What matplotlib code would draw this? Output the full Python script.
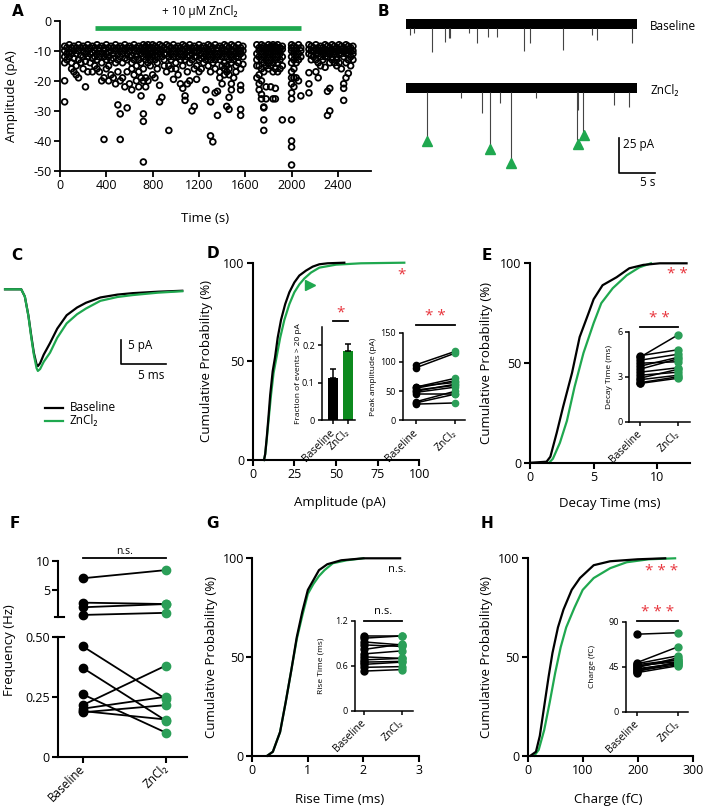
import matplotlib.pyplot as plt
import numpy as np

plt.rcParams['font.family'] = ['Open Sans', 'DejaVu Sans']
plt.rcParams['axes.unicode_minus'] = False

W, H = 708, 808
GREEN = '#1fa84f'
DOT_GREEN = '#2b9f58'
BAR_GREEN = '#0d8a1e'
RED = '#e8343c'

# ---------------- data ----------------
# A: event amplitudes over time, (time s, [amplitudes pA])
a_cols = [
    (40, [-8.5, -10, -12, -14, -20, -27]), (60, [-9, -11, -13]), (80, [-8, -10.5, -12]),
    (100, [-9, -11, -14, -16]), (120, [-8.5, -10, -12.5, -17]), (140, [-9, -11, -15, -18]),
    (160, [-8, -10, -13, -19]), (180, [-9, -11.5, -14]), (200, [-8.5, -10, -12, -16]),
    (220, [-9, -11, -13.5, -22]), (240, [-8, -10, -12, -17]), (260, [-9, -11, -14]),
    (280, [-8.5, -10.5, -12.5, -17]), (300, [-9, -10, -12, -15]), (320, [-8, -11, -13, -16]),
    (340, [-9, -10, -12, -17]), (360, [-8.5, -11, -14, -20]), (380, [-9, -10, -12, -19, -39.5]),
    (400, [-8, -11, -13, -16]), (420, [-9, -10.5, -12, -15, -20]), (440, [-8.5, -10, -13, -18]),
    (460, [-9, -11, -12.5, -19]), (480, [-8, -10, -14, -21]), (500, [-9, -11, -13, -17, -28]),
    (520, [-8.5, -10, -12, -20, -31, -39.5]), (540, [-9, -11, -14, -19]), (560, [-8, -10, -12.5, -22]),
    (580, [-9, -11, -13, -17, -29]), (600, [-8.5, -10, -12, -21]), (620, [-9, -11.5, -14, -16, -23]),
    (640, [-8, -10, -13, -18]), (660, [-9, -11, -12, -15, -20]), (680, [-8.5, -10, -13, -17, -22]),
    (700, [-9, -11, -14, -19, -25]), (720, [-8, -10, -12, -16, -20, -31, -33.5, -47]),
    (740, [-8.5, -9, -10, -11, -13, -19, -22]), (760, [-8, -9.5, -11, -12, -14, -20]),
    (780, [-9, -10, -11, -13, -15]), (800, [-8, -9, -10.5, -12, -18]),
    (820, [-8.5, -10, -11.5, -13, -19]), (840, [-9, -10, -12, -14, -16]),
    (860, [-8, -9.5, -11, -21.5, -27]), (880, [-8.5, -10, -12, -25.5]), (900, [-9, -11, -13, -15]),
    (920, [-8, -9.5, -11, -17]), (940, [-8.5, -10, -12, -15, -36.5]), (960, [-9, -11, -13, -16]),
    (980, [-8, -10, -12, -19.5]), (1000, [-9, -11, -14, -16]), (1020, [-8.5, -10, -12, -18]),
    (1040, [-9, -11, -13, -21]), (1060, [-8, -10, -12, -15, -22.5]),
    (1080, [-8.5, -9.5, -11, -13, -25, -26.5]), (1100, [-9, -10, -12, -17, -21]),
    (1120, [-8, -10, -11.5, -14, -20]), (1140, [-9, -11, -13, -30]), (1160, [-8.5, -10, -12, -16, -28.5]),
    (1180, [-9, -10.5, -12, -15, -19.5]), (1200, [-8, -10, -13, -17]), (1220, [-9, -11, -12.5, -16]),
    (1240, [-8.5, -10, -12, -14]), (1260, [-9, -11, -13, -23]), (1280, [-8, -10, -12, -15]),
    (1300, [-8.5, -9.5, -11, -13, -17, -27, -38.3]), (1320, [-9, -10, -12, -14, -40.3]),
    (1340, [-8, -11, -13, -16, -24]), (1360, [-9, -10, -12, -31.5, -23.5]),
    (1380, [-8.5, -11, -13, -17, -19]), (1400, [-9, -10, -12, -15, -21]),
    (1420, [-8, -10, -11, -14, -16, -18]), (1440, [-8.5, -10, -12, -15, -17, -28.5]),
    (1460, [-9, -11, -13, -16, -18, -29.5, -25.5]), (1480, [-8, -10, -12, -14, -21, -23]),
    (1500, [-8.5, -10, -11, -13, -19]), (1520, [-9, -11, -12, -15, -17]), (1540, [-8, -10, -12, -14]),
    (1560, [-9, -10, -11, -16, -21.5, -23, -29.5, -31.5]), (1580, [-8.5, -10, -12, -14.5]),
    (1700, [-8, -11, -13, -15, -19]), (1720, [-9, -10, -12, -15, -18, -23, -21]),
    (1740, [-8, -9, -11, -13, -16, -20, -24.5, -26]),
    (1760, [-8.5, -10, -12, -14, -17, -28.7, -29, -33, -36.5]),
    (1780, [-9, -10, -11, -13, -15, -22, -26]), (1800, [-8, -9, -10.5, -12, -14, -16]),
    (1820, [-8.5, -9.5, -11, -13, -15, -22]), (1840, [-8, -9, -10, -12, -14, -17, -26]),
    (1860, [-8.5, -10, -11, -13, -16, -22.5, -26]), (1880, [-8, -9, -10, -12, -14, -17]),
    (1900, [-9, -10, -11, -13, -16]), (1920, [-8.5, -9.5, -12, -15, -33]),
    (2000, [-8, -9, -10, -12, -14, -17, -19, -21, -24, -26, -33, -40, -42, -48]),
    (2020, [-8.5, -10, -11, -13, -16, -19, -22]), (2040, [-9, -10, -12, -14, -19]),
    (2060, [-8, -11, -13, -20]), (2080, [-9, -10, -12, -25]),
    (2150, [-8, -9.5, -11, -17.3, -21, -24]), (2170, [-8.5, -10, -11.5, -13]), (2190, [-9, -10, -12]),
    (2210, [-8, -9.5, -11, -13, -17]), (2230, [-9, -10, -11, -14, -19]), (2250, [-8.5, -10, -12, -15]),
    (2270, [-9, -10, -11, -13]), (2290, [-8, -9.5, -11, -12, -15.5]),
    (2310, [-8.5, -10, -12, -23.5, -31.5]), (2330, [-9, -10, -11, -14, -22.5, -30]),
    (2350, [-8, -10, -12, -13]), (2370, [-8.5, -9.5, -11, -14]), (2390, [-9, -10, -12, -13, -15]),
    (2410, [-8, -10, -11, -14]), (2430, [-8.5, -9.5, -11, -16]),
    (2450, [-9, -10, -12, -22.5, -26.5, -21]), (2470, [-8, -10, -11, -14, -19]),
    (2490, [-8.5, -9.5, -11, -13, -17.5]), (2510, [-9, -10, -12, -15]), (2530, [-8.5, -10, -11, -13]),
]
a_t = np.array([t for t, amps in a_cols for _ in amps], dtype=float)
a_amp = np.array([v for _, amps in a_cols for v in amps], dtype=float)

# B: example traces, event times (s) and depths (pA)
base_ev_t = [0.55, 1.1, 3.6, 5.4, 5.9, 6.1, 8.7, 9.8, 11.4, 12.6, 16.4, 17.2, 21.8, 25.8, 26.5, 31.4]
base_ev_d = [7.9, 6.7, 19.8, 12.6, 10.2, 10.2, 6.7, 13.8, 9.0, 9.0, 19.3, 13.8, 18.6, 7.9, 11.4, 13.8]
zn_ev_t = [2.9, 7.7, 10.6, 11.7, 13.1, 14.6, 18.1, 23.7, 23.9, 24.6, 28.8, 30.9]
zn_ev_d = [34.8, 7.4, 18.1, 41.9, 10.9, 51.4, 7.4, 37.1, 15.7, 33.6, 12.1, 13.3]
tri_t = [2.9, 11.7, 14.6, 23.8, 24.7]
tri_d = [38.0, 43.5, 53.5, 40.0, 33.6]

# C: averaged events (ms, pA)
c_t = [0, 1.8, 2.2, 2.6, 2.9, 3.2, 3.5, 3.65, 3.9, 4.3, 5.0, 5.8, 6.85, 8.0, 9.0, 10.6, 12.5, 14.2, 17.0, 19.7]
c_base = [0, 0, -1.5, -5.5, -9.5, -13.2, -15.6, -16.0, -15.4, -13.6, -11.2, -8.2, -5.4, -3.8, -2.8, -1.7,
          -1.1, -0.8, -0.5, -0.3]
c_zn = [0, 0, -1.5, -5.6, -9.8, -13.6, -16.4, -17.0, -16.6, -15.1, -13.2, -10.1, -7.1, -5.2, -4.0, -2.4,
        -1.6, -1.2, -0.7, -0.4]

# D: amplitude cumulative distributions
d_base_x = [6.8, 7.5, 8.5, 9.5, 10.5, 12, 13.4, 15, 17, 19.5, 22, 25, 28, 32, 36, 40, 45, 55]
d_base_p = [0, 3, 12, 22, 33, 45, 52, 62, 71, 79, 85, 90, 93.5, 96, 98, 99.2, 99.7, 100]
d_zn_x = [6.8, 7.5, 8.5, 9.5, 11, 12.5, 14.5, 16.5, 19, 22, 25, 28, 31, 35, 40, 50, 65, 91]
d_zn_p = [0, 3, 11, 20, 33, 44, 53, 62, 71, 79, 85, 89, 92, 95, 97.5, 99, 99.7, 100]
frac_mean = [0.113, 0.185]
frac_err = [0.024, 0.019]
pk_base = [95, 90, 57, 55, 52, 50, 48, 45, 32, 30, 28, 58]
pk_zn = [118, 115, 72, 68, 60, 62, 57, 45, 50, 45, 30, 65]

# E: decay time
e_base_x = [0.1, 1.3, 1.6, 2.1, 2.6, 3.3, 3.9, 4.6, 5.0, 5.7, 6.8, 7.8, 8.9, 10.2, 12.3]
e_base_p = [0, 0.5, 3, 15, 28, 45, 63, 75, 82, 89, 93, 97.5, 99.2, 100, 100]
e_zn_x = [1.5, 1.8, 2.35, 2.9, 3.5, 4.2, 5.0, 5.6, 6.5, 7.6, 8.6, 9.5]
e_zn_p = [0, 2, 10, 21, 38, 55, 70, 80, 87.5, 94, 98, 100]
dc_base = [4.4, 4.3, 4.1, 3.9, 3.7, 3.5, 3.3, 3.1, 2.9, 2.8, 2.6, 2.55]
dc_zn = [4.8, 5.8, 4.5, 4.0, 4.3, 4.2, 3.6, 3.3, 3.5, 3.1, 3.0, 2.9]

# F: frequency (Hz), high and low cells
fq_hi_base = [7.0, 2.84, 2.05, 0.74]
fq_hi_zn = [8.4, 2.6, 2.6, 1.1]
fq_lo_base = [0.46, 0.37, 0.26, 0.215, 0.20, 0.185, 0.19]
fq_lo_zn = [0.24, 0.15, 0.10, 0.38, 0.25, 0.215, 0.155]

# G: rise time
g_base_x = [0.27, 0.37, 0.5, 0.6, 0.7, 0.8, 0.9, 1.0, 1.1, 1.2, 1.35, 1.6, 2.0, 2.66]
g_base_p = [0, 2, 12, 27, 43, 60, 73, 84, 89, 94, 97, 99, 100, 100]
g_zn_x = [0.27, 0.37, 0.5, 0.6, 0.7, 0.8, 0.9, 1.0, 1.1, 1.2, 1.3, 1.45, 1.7, 2.0]
g_zn_p = [0, 2, 12, 27, 43, 59, 71, 82, 87, 91, 94, 97.5, 99, 100]
rt_base = [1.0, 0.97, 0.92, 0.88, 0.82, 0.76, 0.72, 0.68, 0.65, 0.62, 0.58, 0.53]
rt_zn = [1.0, 1.0, 0.88, 0.86, 0.89, 0.80, 0.70, 0.70, 0.66, 0.65, 0.59, 0.55]

# H: charge
h_base_x = [5, 15, 22, 30, 38, 45, 55, 65, 80, 95, 120, 150, 200, 250]
h_base_p = [0, 2, 10, 25, 40, 52, 65, 74, 84, 90, 96.5, 98.5, 99.5, 100]
h_zn_x = [12, 20, 30, 40, 50, 60, 70, 85, 100, 120, 150, 180, 220, 268]
h_zn_p = [0, 3, 13, 27, 42, 55, 65, 75, 84, 90, 95, 98, 99.5, 100]
ch_base = [77.5, 49, 48, 47, 46, 45, 44, 43, 42, 41, 40, 39]
ch_zn = [79, 65, 56, 52, 50, 52, 54, 48, 49, 47, 50, 46]

fig = plt.figure(figsize=(W / 100, H / 100), dpi=100)


def px_axes(x0, y0, x1, y1):
    # pixel box (top-left origin) -> figure axes
    return fig.add_axes([x0 / W, 1 - y1 / H, (x1 - x0) / W, (y1 - y0) / H])


def style(ax, lw=1.3, tick=4, size=9):
    for s in ['top', 'right']:
        ax.spines[s].set_visible(False)
    for s in ['left', 'bottom']:
        ax.spines[s].set_linewidth(lw)
    ax.tick_params(width=lw, length=tick, labelsize=size, pad=2)


def letter(x, y, s):
    fig.text(x / W, 1 - y / H, s, fontsize=11, fontweight='bold', family='DejaVu Sans',
             ha='center', va='center')


def paired(ax, base, zn, ms=5, lw=1.1):
    for b, z in zip(base, zn):
        ax.plot([0, 1], [b, z], color='black', lw=lw, zorder=2, clip_on=False)
    ax.plot(np.zeros(len(base)), base, 'o', color='black', ms=ms, zorder=3, clip_on=False)
    ax.plot(np.ones(len(zn)), zn, 'o', color=DOT_GREEN, ms=ms, zorder=3, clip_on=False)


def inset(box, xlim, ylim, yticks, ylabels, ylabel, lab_x):
    ax = px_axes(*box)
    style(ax, lw=1.1, tick=3, size=6.5)
    ax.set_xlim(*xlim)
    ax.set_ylim(*ylim)
    ax.set_yticks(yticks)
    ax.set_yticklabels(ylabels)
    ax.set_xticks([0, 1])
    ax.set_xticklabels(['Baseline', 'ZnCl₂'], rotation=45, ha='right', va='center',
                       rotation_mode='anchor', fontsize=7.5)
    ax.tick_params(axis='x', pad=5)
    ax.set_ylabel(ylabel, fontsize=6)
    ax.yaxis.set_label_coords(lab_x, 0.5)
    return ax


def sig(ax, y, txt_y, txt, color=RED, size=11):
    ax.plot([0, 1], [y, y], color='black', lw=1.3, clip_on=False)
    ax.text(0.5, txt_y, txt, color=color, ha='center', va='center', fontsize=size)


def cdf_axes(box, xlim, xticks, xlabel, lab_x, xlab_pos):
    ax = px_axes(*box)
    style(ax, lw=1.5, tick=4, size=9)
    ax.set_xlim(*xlim)
    ax.set_ylim(0, 100)
    ax.set_xticks(xticks)
    ax.set_yticks([0, 50, 100])
    ax.set_xlabel(xlabel, fontsize=9.5)
    ax.xaxis.set_label_coords(*xlab_pos)
    ax.set_ylabel('Cumulative Probability (%)', fontsize=9.5)
    ax.yaxis.set_label_coords(lab_x, 0.5)
    return ax


# ---------------- A ----------------
ax = px_axes(60, 20.7, 371, 171)
style(ax, lw=1.3, size=9)
ax.scatter(a_t, a_amp, s=17, facecolors='none', edgecolors='black', linewidths=1.3, clip_on=False)
ax.set_xlim(0, 2686)
ax.set_ylim(-50, 0)
ax.set_xticks(range(0, 2401, 400))
ax.set_yticks(range(-50, 1, 10))
ax.plot([300, 2080], [-2.4, -2.4], color=GREEN, lw=3.4, solid_capstyle='butt', clip_on=False)
ax.text(1209, 2.9, '+ 10 µM ZnCl₂', ha='center', va='center', fontsize=8.5)
ax.set_xlabel('Time (s)', fontsize=9.5)
ax.xaxis.set_label_coords(0.466, -0.27)
ax.set_ylabel('Amplitude (pA)', fontsize=9.5)
ax.yaxis.set_label_coords(-0.135, 0.5)
letter(18, 12, 'A')

# ---------------- B ----------------
ax = px_axes(400, 0, 708, 200)
ax.set_xlim(-0.83, 41.9)
ax.set_ylim(-125.7, 17.1)
ax.axis('off')
zn_off = -45.7
for off, ev_t, ev_d, lab in [(0, base_ev_t, base_ev_d, 'Baseline'), (zn_off, zn_ev_t, zn_ev_d, 'ZnCl₂')]:
    ax.fill_between([0, 32], off - 3.5, off + 3.5, color='black', lw=0)
    ax.vlines(ev_t, off - 3, off - np.array(ev_d), color='#444444', lw=0.8)
    ax.text(33.9, off - 2.1, lab, fontsize=8.5, ha='left', va='center')
ax.plot(tri_t, zn_off - np.array(tri_d), '^', color=GREEN, ms=6.5)
ax.plot([29.6, 29.6, 34.6], [-81.4, -106.4, -106.4], color='black', lw=1.2)
ax.text(30.1, -86.4, '25 pA', fontsize=8.5, ha='left', va='center')
ax.text(33.6, -112.9, '5 s', fontsize=8.5, ha='center', va='center')
letter(383, 12, 'B')

# ---------------- C ----------------
ax = px_axes(0, 230, 200, 430)
ax.set_xlim(-0.56, 21.67)
ax.set_ylim(-29.3, 12.35)
ax.axis('off')
ax.plot(c_t, c_base, color='black', lw=1.6)
ax.plot(c_t, c_zn, color=GREEN, lw=1.6)
ax.plot([12.86, 12.86, 17.86], [-10.6, -15.6, -15.6], color='black', lw=1.2)
ax.text(13.7, -11.8, '5 pA', fontsize=8.5, ha='left', va='center')
ax.text(16.3, -17.9, '5 ms', fontsize=8.5, ha='center', va='center')
ax.plot([4.44, 6.44], [-24.7, -24.7], color='black', lw=1.6)
ax.plot([4.44, 6.44], [-27.4, -27.4], color=GREEN, lw=1.6)
ax.text(7.2, -24.7, 'Baseline', fontsize=8.5, va='center')
ax.text(7.2, -27.4, 'ZnCl₂', fontsize=8.5, va='center')
letter(17, 255, 'C')

# ---------------- D ----------------
ax = cdf_axes((252.7, 262.7, 419.3, 460), (0, 100), [0, 25, 50, 75, 100], 'Amplitude (pA)',
              -0.238, (0.524, -0.18))
ax.plot(d_zn_x, d_zn_p, color=GREEN, lw=1.6, clip_on=False)
ax.plot(d_base_x, d_base_p, color='black', lw=1.6, clip_on=False)
ax.plot([34.4], [88.7], '>', color=GREEN, ms=6.5)
ax.text(89.4, 94.0, '*', color=RED, fontsize=11, ha='center', va='center')
letter(213, 253, 'D')

ax = inset((321.7, 326.7, 355, 420), (-0.79, 1.48), (0, 0.25), [0, 0.1, 0.2], ['0', '0.1', '0.2'],
           'Fraction of events > 20 pA', -0.6)
ax.bar([0, 1], frac_mean, width=0.68, color=['black', BAR_GREEN])
ax.errorbar([0, 1], frac_mean, yerr=[[0, 0], frac_err], fmt='none', ecolor='black',
            elinewidth=1.1, capsize=2.5, capthick=1.1)
sig(ax, 0.266, 0.287, '*')

ax = inset((403, 332.7, 465, 420.5), (-0.323, 1.254), (0, 150), [0, 50, 100, 150],
           ['0', '50', '100', '150'], 'Peak amplitude (pA)', -0.424)
paired(ax, pk_base, pk_zn, ms=4.5)
sig(ax, 163, 177, '* *')

# ---------------- E ----------------
ax = cdf_axes((530, 263.3, 690, 462.7), (0, 12.57), [0, 5, 10], 'Decay Time (ms)',
              -0.229, (0.5, -0.17))
ax.plot(e_zn_x, e_zn_p, color=GREEN, lw=1.6, clip_on=False)
ax.plot(e_base_x, e_base_p, color='black', lw=1.6, clip_on=False)
ax.text(11.6, 94.5, '* *', color=RED, fontsize=11, ha='center', va='center')
letter(486.7, 255, 'E')

ax = inset((629.3, 331.7, 690, 421.7), (-0.279, 1.305), (0, 6), [0, 3, 6], ['0', '3', '6'],
           'Decay Time (ms)', -0.264)
paired(ax, dc_base, dc_zn, ms=5)
sig(ax, 6.33, 6.89, '* *')

# ---------------- F ----------------
ax_hi = px_axes(58.3, 560.7, 186.7, 616.7)
ax_lo = px_axes(58.3, 636.7, 186.7, 756.7)
for a in (ax_hi, ax_lo):
    style(a, lw=1.5, tick=4, size=9)
    a.set_xlim(-0.293, 1.248)
ax_hi.set_ylim(0.44, 10)
ax_hi.set_yticks([5, 10])
ax_hi.spines['bottom'].set_visible(False)
ax_hi.set_xticks([])
ax_hi.plot([-0.026, 0.044], [0, 0], transform=ax_hi.transAxes, color='black', lw=1.5, clip_on=False)
paired(ax_hi, fq_hi_base, fq_hi_zn, ms=6, lw=1.3)
ax_hi.plot([0, 1], [10.4, 10.4], color='black', lw=1.3, clip_on=False)
ax_hi.text(0.5, 11.5, 'n.s.', ha='center', va='center', fontsize=7.5)
ax_lo.set_ylim(0, 0.5)
ax_lo.set_yticks([0, 0.25, 0.5])
ax_lo.set_yticklabels(['0', '0.25', '0.50'])
ax_lo.plot([-0.026, 0.044], [1, 1], transform=ax_lo.transAxes, color='black', lw=1.5, clip_on=False)
ax_lo.set_xticks([0, 1])
ax_lo.set_xticklabels(['Baseline', 'ZnCl₂'], rotation=45, ha='right', va='center',
                      rotation_mode='anchor', fontsize=8.5)
ax_lo.tick_params(axis='x', pad=3)
paired(ax_lo, fq_lo_base, fq_lo_zn, ms=6, lw=1.3)
fig.text(10 / W, 1 - 650 / H, 'Frequency (Hz)', rotation=90, fontsize=9.5, ha='center', va='center')
letter(15, 523, 'F')

# ---------------- G ----------------
ax = cdf_axes((252.3, 558.3, 419, 755.7), (0, 3), [0, 1, 2, 3], 'Rise Time (ms)',
              -0.206, (0.526, -0.19))
ax.plot(g_zn_x, g_zn_p, color=GREEN, lw=1.6, clip_on=False)
ax.plot(g_base_x, g_base_p, color='black', lw=1.6, clip_on=False)
ax.text(2.6, 94.1, 'n.s.', fontsize=8, ha='center', va='center')
letter(213, 523, 'G')

ax = inset((355, 621, 412.7, 710.7), (-0.239, 1.292), (0, 1.2), [0, 0.6, 1.2], ['0', '0.6', '1.2'],
           'Rise Time (ms)', -0.52)
paired(ax, rt_base, rt_zn, ms=5)
sig(ax, 1.2, 1.324, 'n.s.', color='black', size=8)

# ---------------- H ----------------
ax = cdf_axes((527.7, 558.3, 692.7, 755.7), (0, 300), [0, 100, 200, 300], 'Charge (fC)',
              -0.21, (0.487, -0.19))
ax.plot(h_zn_x, h_zn_p, color=GREEN, lw=1.6, clip_on=False)
ax.plot(h_base_x, h_base_p, color='black', lw=1.6, clip_on=False)
ax.text(243.6, 93.5, '* * *', color=RED, fontsize=11, ha='center', va='center')
letter(486.7, 523, 'H')

ax = inset((625.7, 621.7, 688.3, 711.7), (-0.264, 1.24), (0, 90), [0, 45, 90], ['0', '45', '90'],
           'Charge (fC)', -0.474)
paired(ax, ch_base, ch_zn, ms=5)
sig(ax, 90.7, 99, '* * *')

fig.savefig('out.png', dpi=100)
